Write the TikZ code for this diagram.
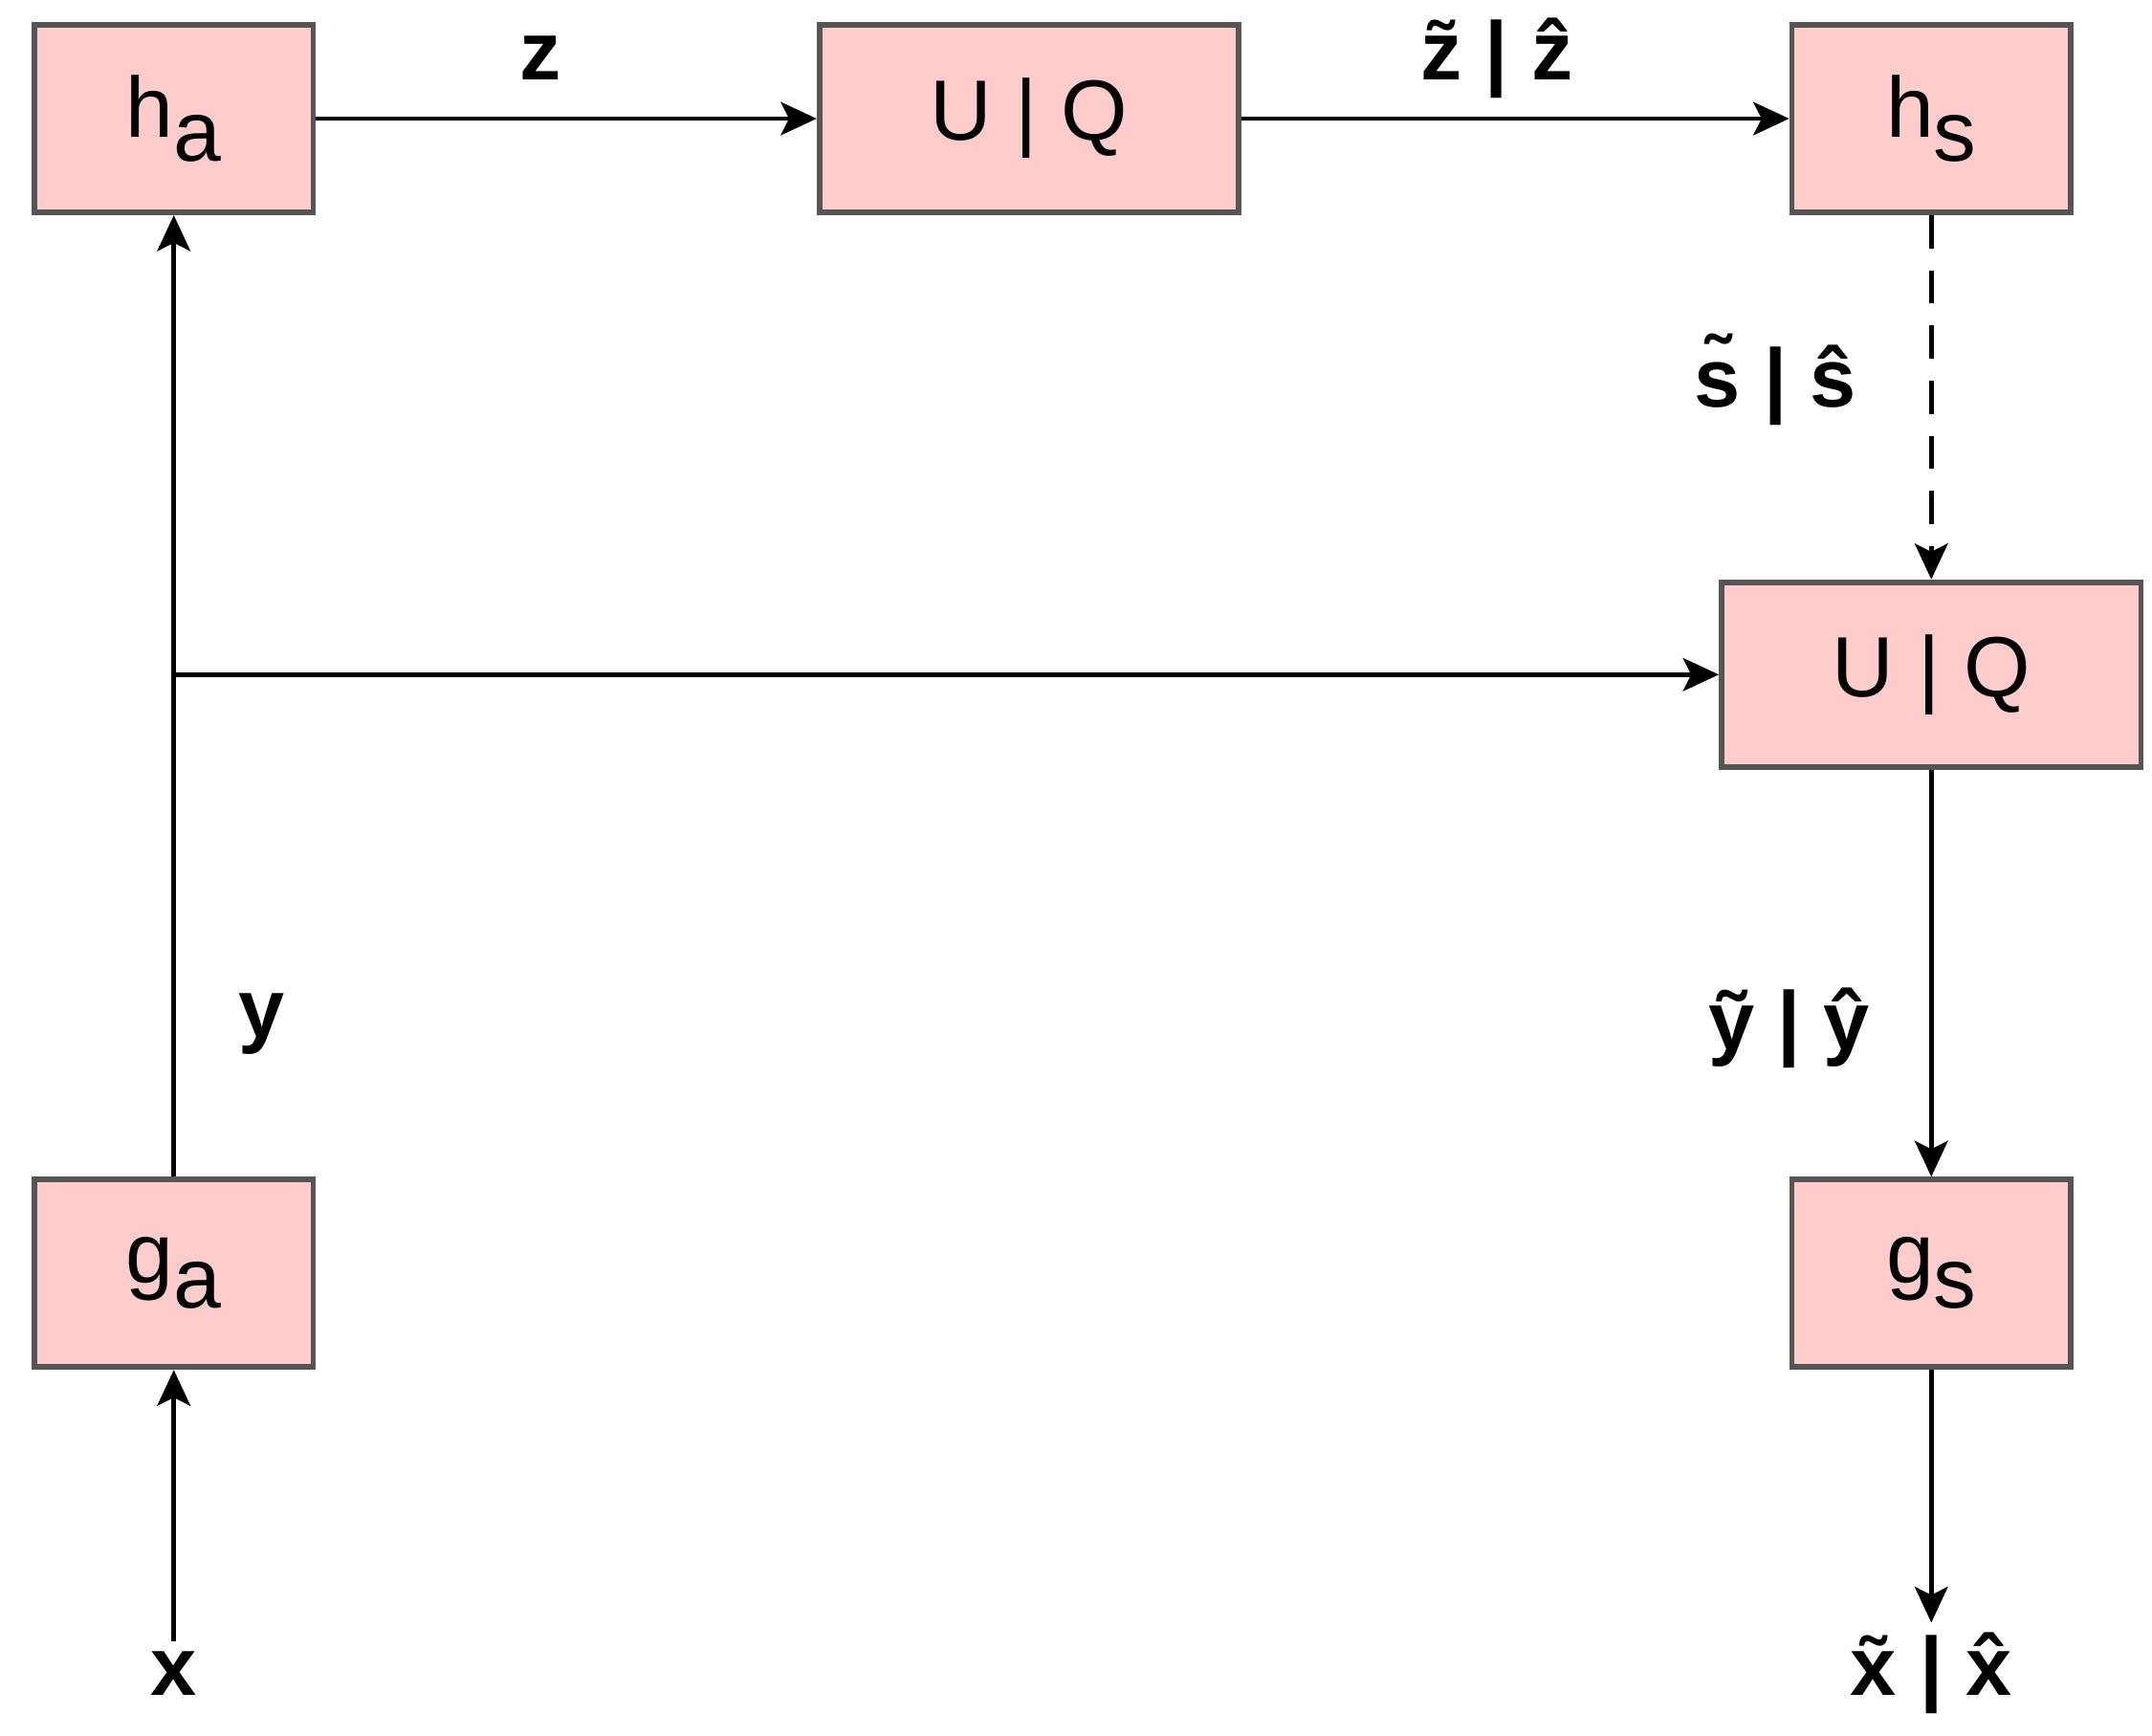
\documentclass[tikz,border=0pt]{standalone}
\usepackage{fontspec}
\setmainfont{Liberation Sans}
\usetikzlibrary{arrows.meta}
\tikzset{every picture/.style={line width=0.75pt}}
\tikzset{
  blk/.style={draw={rgb,255:red,85;green,85;blue,85}, fill={rgb,255:red,255;green,204;blue,204}, line width=2pt, minimum width=101pt, minimum height=68pt, inner sep=0pt, font=\fontsize{31}{36}\selectfont},
  lbl/.style={font=\fontsize{30}{36}\selectfont\bfseries},
  flow/.style={line width=1.6pt, -{Stealth[length=13pt,width=12pt,inset=3pt]}}
}
\newcommand{\subx}[2]{#1\raisebox{-9pt}{#2}}

\begin{document}
\begin{tikzpicture}[x=0.5pt,y=0.5pt,yscale=-1,xscale=1]
		\useasboundingbox (0,0) rectangle (1560,1258);
		
		% Blocks
		\node [blk] (ha) at (126,86) {\subx{h}{a}};
		\node [blk, minimum width=152pt] (uqt) at (746,86) {U | Q};
		\node [blk] (hs) at (1400,86) {\subx{h}{s}};
		\node [blk, minimum width=152pt, minimum height=67pt] (uqr) at (1400,489) {U | Q};
		\node [blk] (ga) at (126,923) {\subx{g}{a}};
		\node [blk] (gs) at (1400,923) {\subx{g}{s}};
		
		% Free ends
		\node [lbl] (x) at (126,1213) {x};
		\node [lbl] (xh) at (1400,1213) {\~{x} | \^{x}};
		\coordinate (br) at (126,489);
		
		% Connectors
		\draw [flow] (x.north) -- (ga);
		\draw [flow] (ga) -- (ha);
		\draw [flow] (br) -- (uqr);
		\draw [flow] (ha) -- (uqt);
		\draw [flow] (uqt) -- (hs);
		\draw [flow, dash pattern=on 12pt off 8pt] (hs) -- (uqr);
		\draw [flow] (uqr) -- (gs);
		\draw [flow] (gs) -- (xh.north);
		
		% Labels
		\node [lbl] (lz) at (392,42) {z};
		\node [lbl] (lzh) at (1085,42) {\~{z} | \^{z}};
		\node [lbl] (lsh) at (1287,275) {\~{s} | \^{s}};
		\node [lbl] (lyh) at (1297,745) {\~{y} | \^{y}};
		\node [lbl] (ly) at (190,742) {y};
\end{tikzpicture}
\end{document}
